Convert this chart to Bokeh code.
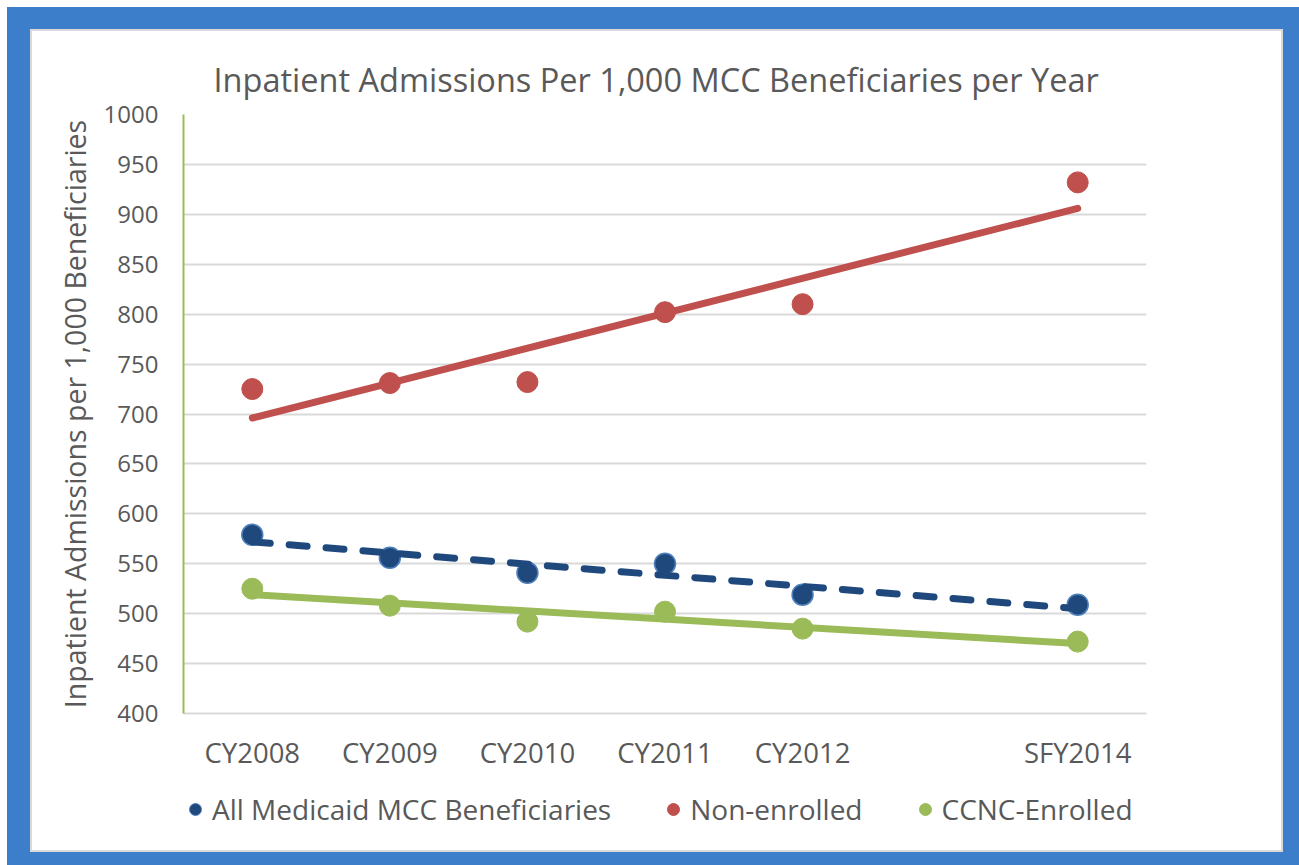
from bokeh.plotting import figure
from bokeh.models import FactorRange, Range1d, FixedTicker, Legend, LegendItem
from bokeh.layouts import column
from bokeh.embed import file_html
from bokeh.resources import INLINE

# ---- data ----
categories = ["CY2008", "CY2009", "CY2010", "CY2011", "CY2012", " ", "SFY2014"]
years = ["CY2008", "CY2009", "CY2010", "CY2011", "CY2012", "SFY2014"]
all_medicaid = [579, 556, 541, 550, 519, 509]
non_enrolled = [725, 731, 732, 802, 810, 932]
ccnc_enrolled = [525, 508, 492, 502, 485, 472]
trend_ends = ["CY2008", "SFY2014"]
all_medicaid_trend = [572, 505]
non_enrolled_trend = [696, 906]
ccnc_enrolled_trend = [519, 470]
y_ticks = [400, 450, 500, 550, 600, 650, 700, 750, 800, 850, 900, 950, 1000]
series_names = ["All Medicaid MCC Beneficiaries", "Non-enrolled", "CCNC-Enrolled"]

FONT = "Open Sans"
TXT = "#595959"
BLUE = "#1F497D"
BLUE_EDGE = "#4F81BD"
RED = "#C0504D"
GREEN = "#9BBB59"
FRAME_BLUE = "#3D7ECB"

x_range = FactorRange(factors=categories, range_padding=0)

p = figure(
    x_range=x_range,
    y_range=Range1d(400, 1000),
    width=1249, height=749, tools="",
    output_backend="svg", toolbar_location=None,
    min_border_left=151, min_border_right=135,
    min_border_top=83, min_border_bottom=67,
    background_fill_color="white", border_fill_color="white",
    outline_line_color=None,
)

p.title.text = "Inpatient Admissions Per 1,000 MCC Beneficiaries per Year"
p.title.align = "left"
p.title.offset = 30
p.title.text_font = FONT
p.title.text_font_size = "32.5px"
p.title.text_font_style = "normal"
p.title.text_color = TXT
p.title.standoff = 25

# y axis
p.yaxis.ticker = FixedTicker(ticks=y_ticks)
p.yaxis.axis_line_color = GREEN
p.yaxis.axis_line_width = 2
p.yaxis.major_tick_line_color = None
p.yaxis.minor_tick_line_color = None
p.yaxis.major_label_text_font = FONT
p.yaxis.major_label_text_font_size = "24px"
p.yaxis.major_label_text_color = TXT
p.yaxis.major_label_standoff = 19
p.yaxis.axis_label = "Inpatient Admissions per 1,000 Beneficiaries"
p.yaxis.axis_label_text_font = FONT
p.yaxis.axis_label_text_font_size = "28.5px"
p.yaxis.axis_label_text_font_style = "normal"
p.yaxis.axis_label_text_color = TXT
p.yaxis.axis_label_standoff = 7

# x axis
p.xaxis.axis_line_color = "#D9D9D9"
p.xaxis.axis_line_width = 2
p.xaxis.major_tick_line_color = None
p.xaxis.minor_tick_line_color = None
p.xaxis.major_label_text_font = FONT
p.xaxis.major_label_text_font_size = "27.5px"
p.xaxis.major_label_text_color = TXT
p.xaxis.major_label_standoff = 14

p.xgrid.grid_line_color = None
p.ygrid.grid_line_color = "#D9D9D9"
p.ygrid.grid_line_width = 2

# markers
p.scatter(years, all_medicaid, size=21, fill_color=BLUE,
          line_color=BLUE_EDGE, line_width=1.5)
p.scatter(years, non_enrolled, size=21, fill_color=RED, line_color=RED)
p.scatter(years, ccnc_enrolled, size=21, fill_color=GREEN, line_color=GREEN)

# linear trendlines (drawn on top of the markers)
p.line(trend_ends, non_enrolled_trend, line_color=RED, line_width=7, line_cap="round")
p.line(trend_ends, ccnc_enrolled_trend, line_color=GREEN, line_width=7, line_cap="round")
p.line(trend_ends, all_medicaid_trend, line_color=BLUE, line_width=7,
       line_dash="18 19", line_cap="round")

# ---- legend strip under the chart (its frame is aligned with the chart's) ----
# The same series are drawn here only to feed the legend: their values lie
# outside this strip's 0..1 y-range, so only the legend keys show.
leg = figure(
    width=1249, height=70, tools="", output_backend="svg", toolbar_location=None,
    x_range=x_range, y_range=Range1d(0, 1),
    x_axis_type=None, y_axis_type=None, min_border=0,
    outline_line_color=None,
    background_fill_color="white", border_fill_color="white",
)
leg.grid.visible = False
lr_all = leg.scatter(years, all_medicaid, fill_color=BLUE, line_color=BLUE_EDGE, line_width=1)
lr_non = leg.scatter(years, non_enrolled, fill_color=RED, line_color=RED)
lr_ccnc = leg.scatter(years, ccnc_enrolled, fill_color=GREEN, line_color=GREEN)

legend = Legend(
    items=[
        LegendItem(label=series_names[0], renderers=[lr_all]),
        LegendItem(label=series_names[1], renderers=[lr_non]),
        LegendItem(label=series_names[2], renderers=[lr_ccnc]),
    ],
    orientation="horizontal", location=(-3, 22),
    label_text_font=FONT, label_text_font_size="28px", label_text_color=TXT,
    glyph_width=30, glyph_height=30, label_standoff=2, spacing=47,
    border_line_color=None, background_fill_alpha=0, padding=0, margin=0,
)
leg.add_layout(legend)

panel = column(p, leg, spacing=0, styles={"box-shadow": "0 0 0 2px #D9D9D9",
                                          "background-color": "white"})
framed = column(panel, styles={"background-color": FRAME_BLUE,
                               "padding": "24px 18px 15px 25px"})
page = column(framed, styles={"padding": "7px 0px 0px 7px",
                              "background-color": "white"})

open("out.html", "w").write(file_html(page, INLINE))
